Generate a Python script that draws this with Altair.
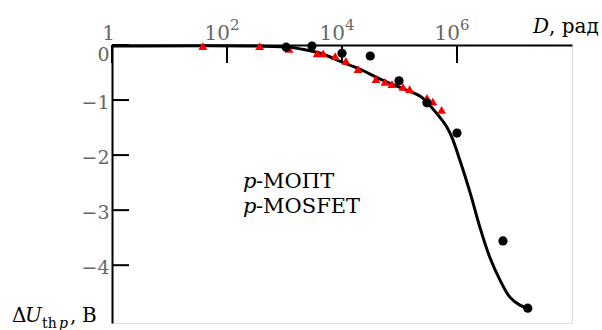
import altair as alt
import pandas as pd

# Radiation dose D (rad) vs. threshold-voltage shift of a p-MOSFET (V)
curve_d = [1, 370, 1.26e3, 1.86e3, 4.2e3, 1e4, 2.04e4, 4.27e4, 1.02e5, 2.3e5, 3.0e5,
           5.0e5, 6.5e5, 8.1e5, 1.12e6, 1.7e6, 2.5e6, 3.7e6, 5.6e6, 8.3e6, 1.26e7, 1.7e7]
curve_u = [-0.02, -0.02, -0.04, -0.07, -0.15, -0.31, -0.44, -0.60, -0.77, -0.93, -1.04,
           -1.31, -1.47, -1.67, -2.09, -2.69, -3.31, -3.85, -4.27, -4.58, -4.73, -4.78]

circle_d = [1.07e3, 3.0e3, 1.0e4, 3.1e4, 9.8e4, 3.0e5, 1.0e6, 6.3e6, 1.7e7]
circle_u = [-0.04, -0.02, -0.15, -0.20, -0.65, -1.05, -1.60, -3.56, -4.78]

tri_d = [38, 370, 1.2e3, 3.7e3, 4.7e3, 7.6e3, 1.17e4, 1.9e4, 3.9e4, 5.6e4, 7.4e4,
         1.15e5, 1.5e5, 3.0e5, 3.8e5, 5.4e5]
tri_u = [-0.02, -0.02, -0.07, -0.15, -0.15, -0.20, -0.29, -0.44, -0.62, -0.67, -0.71,
         -0.76, -0.80, -0.96, -1.03, -1.18]

x_ticks = [1, 1e2, 1e4, 1e6]
x_tick_base = ["1", "10", "10", "10"]
x_tick_exp = ["", "2", "4", "6"]
y_ticks = [0, -1, -2, -3, -4]

FONT = "DejaVu Serif"
LABEL_GRAY = "#666666"
W, H = 460, 278

x_scale = alt.Scale(type="log", domain=[1, 1e8], nice=False)
y_scale = alt.Scale(domain=[-5.05, 0], nice=False, zero=False)

curve_df = pd.DataFrame({"D": curve_d, "U": curve_u})
circle_df = pd.DataFrame({"D": circle_d, "U": circle_u})
tri_df = pd.DataFrame({"D": tri_d, "U": tri_u})
xt_df = pd.DataFrame({"D": x_ticks, "base": x_tick_base, "exp": x_tick_exp})
yt_df = pd.DataFrame({"U": y_ticks})

x_axis = alt.Axis(orient="top", values=x_ticks, ticks=False, labels=False, grid=False,
                  title=None, domainColor="black", domainWidth=2)
y_axis = alt.Axis(orient="left", values=y_ticks, ticks=False, grid=False, title=None,
                  domainColor="black", domainWidth=2, labelFont=FONT, labelFontSize=19,
                  labelColor=LABEL_GRAY, labelPadding=3,
                  labelOffset={"condition": {"test": "datum.value == 0", "value": 9}, "value": 2})

curve = alt.Chart(curve_df).mark_line(color="black", strokeWidth=3, interpolate="catmull-rom").encode(
    x=alt.X("D:Q", scale=x_scale, axis=x_axis),
    y=alt.Y("U:Q", scale=y_scale, axis=y_axis),
)

circles = alt.Chart(circle_df).mark_point(shape="circle", filled=True, color="black",
                                          size=85, opacity=1).encode(
    x=alt.X("D:Q", scale=x_scale), y=alt.Y("U:Q", scale=y_scale))

triangles = alt.Chart(tri_df).mark_point(shape="triangle-up", filled=True, color="#ff0000",
                                         size=80, opacity=1).encode(
    x=alt.X("D:Q", scale=x_scale), y=alt.Y("U:Q", scale=y_scale))

# inward ticks along both axes
x_tick_marks = alt.Chart(xt_df).mark_rule(color="black", strokeWidth=2).encode(
    x=alt.X("D:Q", scale=x_scale), y=alt.value(0), y2=alt.value(18))
y_tick_marks = alt.Chart(yt_df).mark_rule(color="black", strokeWidth=2).encode(
    y=alt.Y("U:Q", scale=y_scale), x=alt.value(0), x2=alt.value(17))

x_base_labels = alt.Chart(xt_df).mark_text(font=FONT, fontSize=20, color=LABEL_GRAY,
                                           align="right", baseline="alphabetic", dx=3).encode(
    x=alt.X("D:Q", scale=x_scale), y=alt.value(-5), text="base:N")
x_exp_labels = alt.Chart(xt_df).mark_text(font=FONT, fontSize=15, color=LABEL_GRAY,
                                          align="left", baseline="alphabetic", dx=3).encode(
    x=alt.X("D:Q", scale=x_scale), y=alt.value(-15), text="exp:N")


def label(text, x, y, size=20, style="normal", color="black"):
    return alt.Chart(pd.DataFrame({"t": [text]})).mark_text(
        font=FONT, fontSize=size, fontStyle=style, color=color,
        align="left", baseline="alphabetic").encode(
        x=alt.value(x), y=alt.value(y), text="t:N")


texts = [
    label("D", 421, -12, style="italic"),
    label(", рад", 437, -12),
    label("p", 131, 143, size=21, style="italic"),
    label("-МОПТ", 144, 143, size=21),
    label("p", 131, 168, size=21, style="italic"),
    label("-MOSFET", 144, 168, size=21),
    label("Δ", -100, 277),
    label("U", -87, 277, style="italic"),
    label("th", -70, 283, size=14),
    label("p", -53, 283, size=14, style="italic"),
    label(",", -42, 277),
    label("В", -30, 277),
]

chart = alt.layer(
    curve, x_tick_marks, y_tick_marks, triangles, circles, x_base_labels, x_exp_labels, *texts
).properties(
    width=W, height=H,
    padding={"left": 112, "top": 45, "right": 30, "bottom": 7},
    autosize=alt.AutoSizeParams(type="none"),
).configure_view(stroke=None).configure(background="white")

chart.save("out.html", embed_options={"renderer": "svg", "actions": False})
